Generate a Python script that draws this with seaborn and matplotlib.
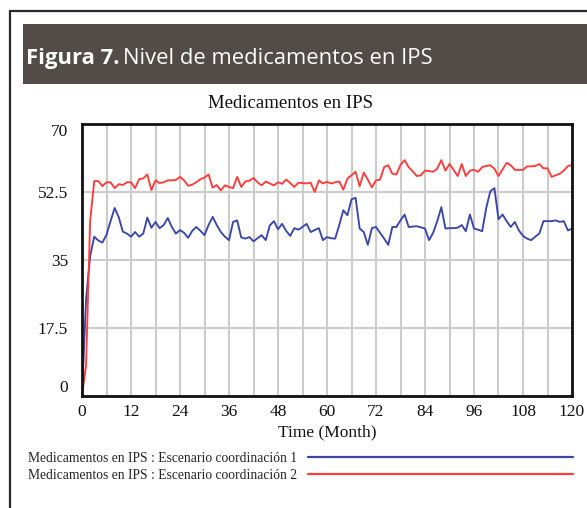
import matplotlib
matplotlib.use("Agg")
import matplotlib.pyplot as plt
import seaborn as sns
import pandas as pd
from matplotlib.lines import Line2D
from matplotlib.patches import Rectangle

# ---------------- data ----------------
months = list(range(0, 121))
escenario_1 = [
    0, 25, 36, 41, 40, 39.5, 41.5, 45, 48.4, 46,
    42.3, 41.8, 41, 42.2, 41, 41.8, 45.9, 43.3, 44.8, 43.2,
    44, 45.8, 43.5, 41.8, 42.7, 42, 40.7, 42.5, 43.5, 42.5,
    41.4, 44, 46.1, 44, 42.2, 41, 40.1, 44.8, 45.2, 40.8,
    40.5, 40.9, 39.8, 40.6, 41.4, 40.1, 43.9, 45, 42.9, 44.3,
    42.5, 41.2, 43.2, 42.8, 43.5, 44.3, 42.2, 42.7, 43.2, 40.1,
    40.9, 40.6, 40.5, 44, 47.8, 46.5, 50.6, 51, 43.1, 42.2,
    38.9, 43.2, 43.5, 42, 40.5, 38.9, 43.5, 43.5, 45.2, 46.7,
    43.5, 43.6, 43.7, 43.4, 43.1, 40.1, 42, 45, 48.6, 43.1,
    43.2, 43.2, 43.3, 44, 42.4, 46.7, 43.1, 42.8, 42.4, 48.4,
    52.7, 53.5, 45.5, 46.7, 45, 43.5, 44.8, 42.6, 41.2, 40.5,
    40.1, 41, 41.8, 45, 45, 45, 45.2, 44.8, 45, 42.6,
    43.1,
]
escenario_2 = [
    0, 8, 45, 55.3, 55.3, 54, 55, 55, 53.5, 54.5,
    54.3, 55, 55, 53.5, 55.8, 56, 57, 53, 55.5, 54.8,
    55, 55.5, 55.5, 55.6, 56.4, 55.5, 54.1, 54.4, 55, 55.8,
    56.2, 57, 53.6, 54.3, 52.9, 54.2, 53.8, 53.5, 56.4, 53.8,
    55.2, 55.4, 56.1, 55, 54.2, 55.2, 54.7, 54.2, 55, 54.6,
    55.7, 54.8, 53.8, 54.9, 54.8, 54.7, 54.9, 52.5, 55.5, 54.7,
    55.1, 54.7, 55, 55.2, 53.1, 55.9, 56.8, 57.7, 54, 57.5,
    55.7, 53.7, 55.5, 55.7, 58.9, 59.4, 57.2, 57, 59.5, 60.7,
    58.9, 57.8, 56.6, 56.8, 58, 57.9, 57.7, 58.5, 60.7, 58,
    59.7, 58.2, 56.6, 59.7, 56.6, 58, 58.2, 57.7, 58.9, 59.2,
    59.4, 58.5, 56.6, 58.3, 60, 59.4, 58.2, 58.2, 58.2, 59.1,
    59.1, 59.2, 59.7, 58.6, 58.6, 56.4, 56.8, 57.2, 58, 59.2,
    59.4,
]
series_labels = [
    "Medicamentos en IPS : Escenario coordinación 1",
    "Medicamentos en IPS : Escenario coordinación 2",
]
x_ticks = [0, 12, 24, 36, 48, 60, 72, 84, 96, 108, 120]
x_minor = [6, 18, 30, 42, 54, 66, 78, 90, 102, 114]
y_ticks = [0, 17.5, 35, 52.5, 70]
y_tick_labels = ["0", "17.5", "35", "52.5", "70"]

# ---------------- style ----------------
sns.set_theme(style="white")
plt.rcParams["font.family"] = ["Liberation Serif", "DejaVu Serif"]

W, H = 587, 508
fig = plt.figure(figsize=(W / 100, H / 100), dpi=100)
fig.patch.set_facecolor("white")

# outer frame (left & top visible)
fig.add_artist(Line2D([10 / W, 10 / W], [0, (H - 11) / H], transform=fig.transFigure,
                      color="#2a2a2a", lw=1.6))
fig.add_artist(Line2D([10 / W, 1], [(H - 11) / H, (H - 11) / H], transform=fig.transFigure,
                      color="#2a2a2a", lw=1.6))

# header band
fig.add_artist(Rectangle((22.5 / W, (H - 84) / H), 1 - 22.5 / W, 60 / H,
                         transform=fig.transFigure, facecolor="#524b47", edgecolor="none"))
t1 = fig.text(25.5 / W, (H - 64) / H, "Figura 7.", color="white", fontsize=15.8,
              fontweight="bold", family=["Open Sans", "DejaVu Sans"], va="baseline", ha="left")
fig.canvas.draw()
bb = t1.get_window_extent(renderer=fig.canvas.get_renderer())
fig.text(bb.x1 / W + 4 / W, (H - 64) / H, "Nivel de medicamentos en IPS", color="white",
         fontsize=15.8, family=["Open Sans", "DejaVu Sans"], va="baseline", ha="left")

# chart title
fig.text(291 / W, (H - 103) / H, "Medicamentos en IPS", fontsize=13.5, ha="center", va="center",
         color="#111111")

# axes
ax = fig.add_axes([82 / W, (H - 396) / H, (572 - 82) / W, (396 - 124) / H])
df = pd.DataFrame({
    "Time": months + months,
    "Valor": escenario_1 + escenario_2,
    "Serie": [series_labels[0]] * len(months) + [series_labels[1]] * len(months),
})
blue, red = "#3a46a8", "#ff3c3c"
sns.lineplot(data=df, x="Time", y="Valor", hue="Serie", palette=[blue, red],
             linewidth=1.35, ax=ax, legend=False)

ax.set_xlim(0, 120)
ax.set_ylim(0, 70)
ax.set_xticks(x_ticks)
ax.set_xticks(x_minor, minor=True)
ax.set_yticks(y_ticks)
ax.set_yticklabels(y_tick_labels)
ax.grid(True, which="both", color="#cccccc", linewidth=1.5)
ax.set_axisbelow(True)
ax.tick_params(axis="both", which="both", length=0, labelsize=12.5, colors="#111111")
ax.tick_params(axis="x", pad=6)
ax.tick_params(axis="y", pad=10)
ylabels = ax.get_yticklabels()
ylabels[0].set_verticalalignment("bottom")
ylabels[-1].set_verticalalignment("top")
for s in ax.spines.values():
    s.set_visible(True)
    s.set_color("#111111")
    s.set_linewidth(2)
ax.set_xlabel("Time (Month)", fontsize=12.5, labelpad=3, color="#111111")
ax.set_ylabel("")

handles = [Line2D([], [], color=blue, lw=1.6), Line2D([], [], color=red, lw=1.6)]
fig.legend(handles, series_labels, loc="upper left", bbox_to_anchor=(28 / W, (H - 452) / H),
           bbox_transform=fig.transFigure, frameon=False, markerfirst=False,
           handlelength=19.5, handletextpad=0.8, labelspacing=0.3, fontsize=9.8,
           borderaxespad=0, borderpad=0)

fig.savefig("out.png", dpi=100, facecolor="white")
